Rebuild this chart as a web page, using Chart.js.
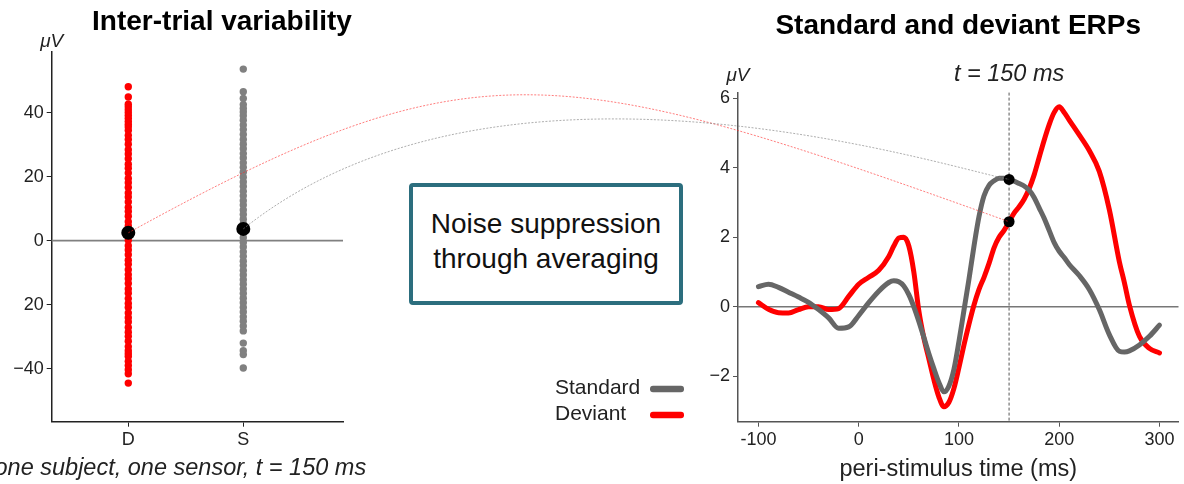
<!doctype html>
<html>

<head>
  <meta charset="UTF-8">
  <script src="https://cdn.jsdelivr.net/npm/chart.js"></script>
  <style>
    body { margin: 0; background: #fff; overflow: hidden; }
    #page { position: relative; width: 1184px; height: 484px; overflow: hidden; }
    canvas { position: absolute; top: 0; }
    #note {
      position: absolute; left: 409px; top: 183px; width: 274px; height: 122px;
      box-sizing: border-box; border: 4px solid #2c6e7e; border-radius: 4px; background: #fff;
      display: flex; align-items: center; justify-content: center; text-align: center;
      font: 28px/35px 'Liberation Sans', Arial, sans-serif; color: #111; padding-bottom: 6px;
    }
    #links { pointer-events: none; }
  </style>
</head>

<body>
  <div id="page">
    <canvas id="trialChart" width="444" height="484" style="left:0"></canvas>
    <canvas id="erpChart" width="664" height="484" style="left:520px"></canvas>
    <div id="note">Noise suppression<br>through averaging</div>
    <canvas id="links" width="1184" height="484" style="left:0"></canvas>
  </div>

<script>
  // ---- single trials at t = 150 ms (µV) ----
  const conditions = ['D', 'S'];
  const deviantTrials = [
    48.1, 44.9, 42.6, 41.8, 40.9, 40.0, 39.1, 38.2, 37.2, 36.3, 35.5,
    34.4, 32.9, 31.6, 30.1, 28.4, 27.1, 25.6, 23.9, 22.6, 21.1, 19.4, 18.1, 16.6, 14.9,
    13.6, 12.1, 10.4, 9.1, 7.6, 5.9, 4.6, 3.1, 1.4, 0.1, -1.6, -2.9, -4.4, -6.1, -7.4,
    -9.1, -10.6, -11.9, -13.4, -15.1, -16.4, -18.1, -19.6, -20.9, -22.6, -24.1, -25.4,
    -27.1, -28.6, -29.9, -31.4, -33.1, -34.4,
    -35.3, -36.2, -37.7, -39.0, -40.3, -41.6, -44.5
  ];
  const standardTrials = [
    53.6, 46.5, 44.4, 42.5, 41.3, 40.2,
    39.0, 37.6, 36.1, 34.7, 33.2, 31.6, 30.1, 28.7, 27.2, 25.8, 24.3, 22.9, 21.4, 19.8,
    18.3, 16.9, 15.4, 14.0, 12.5, 11.1, 9.6, 8.2, 6.7, 5.3, 3.8, 2.4, 0.9, -0.6, -2.0,
    -3.5, -4.9, -6.4, -7.8, -9.3, -10.7, -12.2, -13.6, -15.1, -16.5, -18.0, -19.4,
    -20.9, -22.3, -23.8, -25.2, -26.7, -28.2,
    -32.0, -34.4, -35.6, -39.8
  ];
  const trialTicks = [-40, -20, 0, 20, 40];
  const trialTickLabels = ['\u221240', '20', '0', '20', '40'];

  // ---- averaged ERPs (µV) ----
  const times = [-100, -90, -80, -70, -60, -50, -40, -30, -20, -10, 0, 10, 20, 30,
    35, 40, 45, 50, 55, 60, 65, 70, 75, 80, 85, 90, 95, 100, 105, 110, 115, 120, 125,
    130, 135, 140, 145, 150, 155, 160, 165, 170, 175, 180, 185, 190, 195, 200, 205, 210,
    220, 230, 240, 250, 260, 265, 270, 280, 290, 300];
  const standardERP = [0.58, 0.65, 0.56, 0.42, 0.28, 0.13, -0.08, -0.32, -0.62, -0.58, -0.25, 0.12, 0.45, 0.70,
    0.75, 0.72, 0.6, 0.35, 0.0, -0.42, -0.88, -1.35, -1.78, -2.18, -2.45, -2.28, -1.8, -1.0, -0.1, 0.8, 1.75, 2.6, 3.2,
    3.5, 3.63, 3.7, 3.7, 3.67, 3.62, 3.55, 3.48, 3.36, 3.15, 2.85, 2.55, 2.2, 1.85, 1.6, 1.42, 1.22,
    0.9, 0.5, -0.08, -0.8, -1.28, -1.3, -1.27, -1.1, -0.85, -0.53];
  const deviantERP = [0.12, -0.07, -0.17, -0.18, -0.08, 0.0, 0.0, -0.08, -0.05, 0.3, 0.65, 0.85, 1.05, 1.45,
    1.75, 1.98, 2.0, 1.75, 1.0, -0.12, -0.9, -1.5, -2.1, -2.6, -2.88, -2.75, -2.35, -1.75, -1.1, -0.5, 0.05, 0.5, 0.85,
    1.25, 1.7, 2.0, 2.2, 2.45, 2.7, 2.88, 3.1, 3.4, 3.8, 4.3, 4.8, 5.25, 5.6, 5.76, 5.6, 5.38,
    4.95, 4.5, 3.9, 2.8, 1.3, 0.7, 0.05, -0.85, -1.2, -1.33];
  const erpXTicks = [-100, 0, 100, 200, 300];
  const erpYTicks = [-2, 0, 2, 4, 6];
  const erpYTickLabels = ['\u22122', '0', '2', '4', '6'];
  const probeTime = 150;

  const FONT = "'Liberation Sans', Arial, sans-serif";
  const probeIdx = times.indexOf(probeTime);
  const stdAtProbe = standardERP[probeIdx];
  const devAtProbe = deviantERP[probeIdx];

  // zero line, probe line, small texts and legend
  const decorations = {
    id: 'decorations',
    beforeDatasetsDraw(chart, args, opts) {
      const { ctx, chartArea: a, scales: { x, y } } = chart;
      ctx.save();
      if (opts.zeroLine) {
        const py = y.getPixelForValue(0);
        ctx.strokeStyle = opts.zeroLine.color;
        ctx.lineWidth = opts.zeroLine.width;
        ctx.beginPath(); ctx.moveTo(a.left, py); ctx.lineTo(a.right, py); ctx.stroke();
      }
      if (opts.probe) {
        const px = x.getPixelForValue(opts.probe.value);
        ctx.strokeStyle = '#555';
        ctx.lineWidth = 1;
        ctx.setLineDash([3, 2]);
        ctx.beginPath(); ctx.moveTo(px, a.top); ctx.lineTo(px, a.bottom); ctx.stroke();
      }
      ctx.restore();
    },
    afterDraw(chart, args, opts) {
      const { ctx, chartArea: a, scales: { x } } = chart;
      ctx.save();
      ctx.fillStyle = '#222';
      ctx.textBaseline = 'middle';
      if (opts.unit) {
        ctx.font = `italic 19px ${FONT}`;
        ctx.textAlign = 'center';
        ctx.fillText('\u03bcV', a.left, a.top - opts.unit.gap);
      }
      if (opts.probe) {
        ctx.font = `italic 23.5px ${FONT}`;
        ctx.textAlign = 'center';
        ctx.fillText(opts.probe.label, x.getPixelForValue(opts.probe.value), a.top - 18);
      }
      if (opts.caption) {
        ctx.font = `italic 23.5px ${FONT}`;
        ctx.textAlign = 'center';
        ctx.fillText(opts.caption, (a.left + a.right) / 2 - 17, chart.height - 16);
      }
      if (opts.legend) {
        const items = chart.data.datasets.filter(d => !d.isMarker);
        ctx.font = `21px ${FONT}`;
        ctx.textAlign = 'left';
        items.forEach((d, i) => {
          const cy = a.bottom - 7 - (items.length - 1 - i) * 26;
          ctx.fillStyle = '#222';
          ctx.fillText(d.label, a.left - 183, cy);
          ctx.fillStyle = d.borderColor;
          ctx.beginPath();
          ctx.roundRect(a.left - 88, cy - 3, 34, 6.5, 3);
          ctx.fill();
        });
      }
      ctx.restore();
    }
  };

  const tickFont = { family: FONT, size: 18 };

  // ---- left: inter-trial variability ----
  const trialChart = new Chart(document.getElementById('trialChart'), {
    type: 'scatter',
    data: {
      datasets: [
        {
          label: 'mean',
          data: [{ x: 0, y: devAtProbe }, { x: 1, y: stdAtProbe }],
          backgroundColor: '#000', pointRadius: 7, borderWidth: 0
        },
        {
          label: 'D',
          data: deviantTrials.map(v => ({ x: 0, y: v })),
          backgroundColor: '#ff0000', pointRadius: 3.7, borderWidth: 0
        },
        {
          label: 'S',
          data: standardTrials.map(v => ({ x: 1, y: v })),
          backgroundColor: '#808080', pointRadius: 3.7, borderWidth: 0
        }
      ]
    },
    options: {
      responsive: false,
      animation: false,
      events: [],
      layout: { padding: 0 },
      scales: {
        x: {
          type: 'linear', min: -0.666, max: 1.867,
          afterBuildTicks: s => { s.ticks = conditions.map((c, i) => ({ value: i })); },
          afterFit: s => { s.height = 62.3; },
          ticks: { callback: v => conditions[v], font: tickFont, color: '#222', padding: 3, autoSkip: false, maxRotation: 0 },
          grid: { drawOnChartArea: false, tickLength: 5, color: '#222' },
          border: { color: '#222', width: 1.5 }
        },
        y: {
          min: -56.56, max: 59.06,
          afterBuildTicks: s => { s.ticks = trialTicks.map(v => ({ value: v })); },
          afterFit: s => { s.width = 51.7; },
          ticks: { callback: v => trialTickLabels[trialTicks.indexOf(v)], font: tickFont, color: '#222', padding: 3, autoSkip: false },
          grid: { drawOnChartArea: false, tickLength: 5, color: '#222' },
          border: { color: '#222', width: 1.5 }
        },
        // empty space on the right so the title centres over the whole panel
        gap: {
          position: 'right', display: true,
          afterFit: s => { s.width = 101; },
          ticks: { display: false }, grid: { display: false }, border: { display: false }
        }
      },
      plugins: {
        legend: { display: false },
        tooltip: { enabled: false },
        title: {
          display: true, text: 'Inter-trial variability', color: '#000',
          font: { family: FONT, size: 28, weight: 'bold' },
          padding: { top: 5, bottom: 13 }
        },
        decorations: {
          zeroLine: { color: '#808080', width: 1.8 },
          unit: { gap: 10 },
          caption: 'one subject, one sensor, t = 150 ms'
        }
      }
    },
    plugins: [decorations]
  });

  // ---- right: standard and deviant ERPs ----
  const erpChart = new Chart(document.getElementById('erpChart'), {
    type: 'line',
    data: {
      datasets: [
        {
          label: 'probe', isMarker: true, showLine: false,
          data: [{ x: probeTime, y: stdAtProbe }, { x: probeTime, y: devAtProbe }],
          backgroundColor: '#000', pointRadius: 5.5, borderWidth: 0
        },
        {
          label: 'Standard',
          data: times.map((t, i) => ({ x: t, y: standardERP[i] })),
          borderColor: '#666666', borderWidth: 5, pointRadius: 0,
          cubicInterpolationMode: 'monotone', borderCapStyle: 'round', borderJoinStyle: 'round'
        },
        {
          label: 'Deviant',
          data: times.map((t, i) => ({ x: t, y: deviantERP[i] })),
          borderColor: '#ff0000', borderWidth: 5, pointRadius: 0,
          cubicInterpolationMode: 'monotone', borderCapStyle: 'round', borderJoinStyle: 'round'
        }
      ]
    },
    options: {
      responsive: false,
      animation: false,
      events: [],
      layout: { padding: { left: 0, right: 4, top: 0, bottom: 0 } },
      scales: {
        x: {
          type: 'linear', min: -120.4, max: 319,
          afterBuildTicks: s => { s.ticks = erpXTicks.map(v => ({ value: v })); },
          afterFit: s => { s.height = 62.3; },
          ticks: { callback: v => String(v), font: tickFont, color: '#222', padding: 3, autoSkip: false, maxRotation: 0 },
          grid: { drawOnChartArea: false, tickLength: 5, color: '#555' },
          border: { color: '#555', width: 1.5 },
          title: {
            display: true, text: 'peri-stimulus time (ms)', color: '#222',
            font: { family: FONT, size: 23.5 }, padding: { top: 0, bottom: 0 }
          }
        },
        y: {
          min: -3.31, max: 6.17,
          afterBuildTicks: s => { s.ticks = erpYTicks.map(v => ({ value: v })); },
          afterFit: s => { s.width = 218; },
          ticks: { callback: v => erpYTickLabels[erpYTicks.indexOf(v)], font: tickFont, color: '#222', padding: 3, autoSkip: false },
          grid: { drawOnChartArea: false, tickLength: 5, color: '#555' },
          border: { color: '#555', width: 1.5 }
        }
      },
      plugins: {
        legend: { display: false },
        tooltip: { enabled: false },
        title: {
          display: true, text: 'Standard and deviant ERPs', color: '#000', fullSize: false,
          font: { family: FONT, size: 28, weight: 'bold' },
          padding: { top: 9, bottom: 50 }
        },
        decorations: {
          zeroLine: { color: '#777', width: 1.5 },
          probe: { value: probeTime, label: 't = 150 ms' },
          unit: { gap: 17 },
          legend: true
        }
      }
    },
    plugins: [decorations]
  });

  // ---- curved links from trial means to the ERP values ----
  const links = [
    { from: 0, to: 1, color: 'rgba(255, 40, 40, 0.6)', k1: 0.391, s1: 0.55, k2: 0.517, s2: 0.36 },
    { from: 1, to: 0, color: 'rgba(130, 130, 130, 0.65)', k1: 0.334, s1: 0.8, k2: 0.093, s2: 0.2 }
  ];

  function drawLinks() {
    const canvas = document.getElementById('links');
    const ctx = canvas.getContext('2d');
    ctx.clearRect(0, 0, canvas.width, canvas.height);
    const lOff = trialChart.canvas.offsetLeft;
    const rOff = erpChart.canvas.offsetLeft;
    const means = trialChart.getDatasetMeta(0).data;
    const probes = erpChart.getDatasetMeta(0).data;
    links.forEach(l => {
      const p0 = { x: lOff + means[l.from].x, y: means[l.from].y };
      const p3 = { x: rOff + probes[l.to].x, y: probes[l.to].y };
      const dx = p3.x - p0.x;
      ctx.save();
      ctx.strokeStyle = l.color;
      ctx.lineWidth = 1;
      ctx.setLineDash([2, 1.5]);
      ctx.beginPath();
      ctx.moveTo(p0.x, p0.y);
      ctx.bezierCurveTo(p0.x + l.k1 * dx, p0.y - l.s1 * l.k1 * dx,
        p3.x - l.k2 * dx, p3.y - l.s2 * l.k2 * dx, p3.x, p3.y);
      ctx.stroke();
      ctx.restore();
    });
  }

  drawLinks();
  requestAnimationFrame(drawLinks);
</script>
</body>

</html>
